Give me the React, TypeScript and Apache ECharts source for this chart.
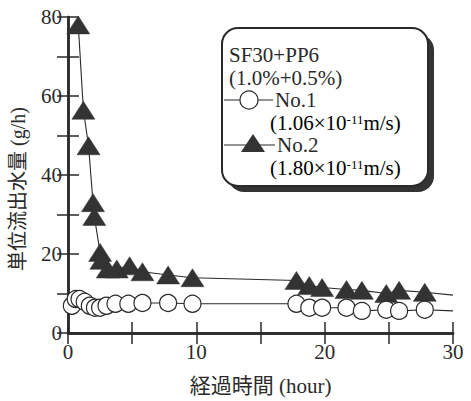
import React, { useEffect, useRef } from "react";
import * as echarts from "echarts";

const no1Hours = [0.3, 0.6, 0.9, 1.3, 1.7, 2.1, 2.5, 3.0, 3.7, 4.7, 5.8, 7.8, 9.7, 17.8, 18.8, 19.8, 21.7, 22.9, 24.8, 25.8, 27.8, 30];
const no1Flow = [6.9, 8.6, 8.6, 7.9, 6.9, 6.4, 6.4, 6.9, 7.4, 7.4, 7.6, 7.6, 7.4, 7.4, 6.4, 6.4, 6.4, 5.6, 5.9, 5.6, 5.9, 5.6];
const no2Hours = [0.8, 1.2, 1.6, 1.95, 2.05, 2.5, 2.6, 3.1, 3.8, 4.8, 5.8, 7.8, 9.7, 17.8, 18.8, 19.8, 21.7, 22.9, 24.8, 25.8, 27.8, 30];
const no2Flow = [78, 56.4, 47.4, 33, 29.5, 20.4, 18.4, 16.2, 16.2, 17, 15.5, 14.7, 14, 13.3, 12, 11.5, 11, 10.8, 10, 10.8, 10.3, 9.6];
// last entry of each series is where the line meets the right frame (no marker)

const xTickLabels = ["0", "10", "20", "30"];
const yTickLabels = ["0", "20", "40", "60", "80"];

const FONT = "'Liberation Serif', 'Times New Roman', 'Noto Sans CJK JP', serif";
const INK = "#2a2a2a";
const LF = 21;

function build(hours: number[], flow: number[]) {
  return hours.map((h, i) =>
    i === hours.length - 1
      ? { value: [h, flow[i]], symbol: "none" }
      : { value: [h, flow[i]] }
  );
}

export default function App() {
  const ref = useRef<HTMLDivElement>(null);
  useEffect(() => {
    if (!ref.current) return;
    const chart = echarts.init(ref.current, undefined, { renderer: "svg" });
    const axisCommon = {
      axisLine: { show: true, lineStyle: { color: INK, width: 2.5 } },
      axisTick: { show: true, inside: true, length: 11, lineStyle: { color: INK, width: 1.5 } },
      splitLine: { show: false },
    };
    const rich = {
      a: { fontFamily: FONT, fontSize: LF, color: INK, lineHeight: 20 },
      s: { fontFamily: FONT, fontSize: 13, color: INK, lineHeight: 20, verticalAlign: "top" as const },
    };
    const t = (x: number, y: number, text: string) => ({
      type: "text", z: 12, x, y,
      style: { text, font: `${LF}px ${FONT}`, fill: INK, verticalAlign: "middle" },
    });
    chart.setOption({
      animation: false,
      backgroundColor: "#fff",
      grid: { left: 68, right: 18, top: 17, bottom: 58, containLabel: false },
      xAxis: [
        {
          type: "value", min: 0, max: 30, interval: 5, position: "bottom",
          ...axisCommon,
          axisLabel: {
            margin: 8, fontFamily: FONT, fontSize: 21, color: INK,
            formatter: (v: number) => (xTickLabels.includes(String(v)) ? String(v) : ""),
          },
          name: "経過時間 (hour)", nameLocation: "middle", nameGap: 42,
          nameTextStyle: { fontFamily: FONT, fontSize: 21, color: INK },
        },
        {
          type: "value", min: 0, max: 30, interval: 5, position: "top",
          ...axisCommon, axisLabel: { show: false },
        },
      ],
      yAxis: [
        {
          type: "value", min: 0, max: 80, interval: 10, position: "left",
          ...axisCommon,
          axisLabel: {
            margin: 6, fontFamily: FONT, fontSize: 21, color: INK,
            formatter: (v: number) => (yTickLabels.includes(String(v)) ? String(v) : ""),
          },
          name: "単位流出水量 (g/h)", nameLocation: "middle", nameGap: 40, nameRotate: 90,
          nameTextStyle: { fontFamily: FONT, fontSize: 20, color: INK, padding: [0, 28, 0, 0] },
        },
        {
          type: "value", min: 0, max: 80, interval: 10, position: "right",
          ...axisCommon, axisLabel: { show: false },
        },
      ],
      series: [
        {
          name: "No.2", type: "line", data: build(no2Hours, no2Flow), clip: false,
          symbol: "triangle", symbolSize: [23, 18],
          itemStyle: { color: "#333", borderColor: "#333", borderWidth: 0.5 },
          lineStyle: { color: INK, width: 1.1 },
          z: 2,
        },
        {
          name: "No.1", type: "line", data: build(no1Hours, no1Flow), clip: false,
          symbol: "circle", symbolSize: 17,
          itemStyle: { color: "#fff", borderColor: INK, borderWidth: 1.2 },
          lineStyle: { color: INK, width: 1.1 },
          z: 3,
        },
      ],
      graphic: [
        { type: "rect", z: 10, shape: { x: 228, y: 34, width: 206, height: 158, r: 16 }, style: { fill: "#333" } },
        { type: "rect", z: 11, shape: { x: 222, y: 28, width: 206, height: 158, r: 16 }, style: { fill: "#fff", stroke: INK, lineWidth: 2 } },
        t(229, 55, "SF30+PP6"),
        t(229, 78, "(1.0%+0.5%)"),
        { type: "line", z: 12, shape: { x1: 224, y1: 100, x2: 273, y2: 100 }, style: { stroke: INK, lineWidth: 1.2 } },
        { type: "circle", z: 13, shape: { cx: 249, cy: 100, r: 9 }, style: { fill: "#fff", stroke: INK, lineWidth: 1.2 } },
        t(275, 100, "No.1"),
        { type: "text", z: 12, x: 270, y: 123, style: { text: "{a|(1.06×10}{s|-11}{a|m/s)}", rich, verticalAlign: "middle" } },
        { type: "line", z: 12, shape: { x1: 224, y1: 145, x2: 275, y2: 145 }, style: { stroke: INK, lineWidth: 1.2 } },
        { type: "polygon", z: 13, shape: { points: [[253, 134], [265, 152], [241, 152]] }, style: { fill: "#333" } },
        t(277, 145, "No.2"),
        { type: "text", z: 12, x: 270, y: 168, style: { text: "{a|(1.80×10}{s|-11}{a|m/s)}", rich, verticalAlign: "middle" } },
      ],
    });
    return () => chart.dispose();
  }, []);
  return (
    <div
      ref={ref}
      style={{ position: "fixed", left: 0, top: 0, width: 471, height: 401, background: "#fff" }}
    />
  );
}
